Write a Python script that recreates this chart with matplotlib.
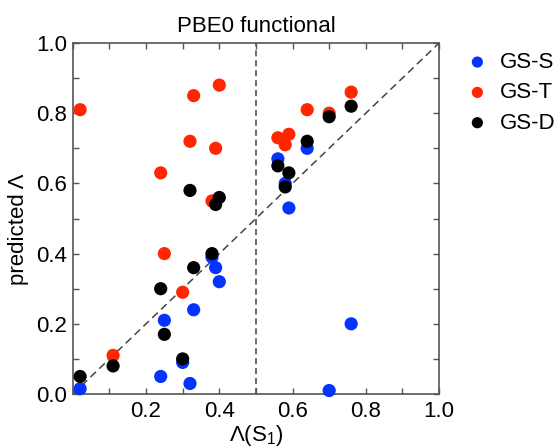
import matplotlib
matplotlib.use("Agg")
import matplotlib.pyplot as plt
from matplotlib.ticker import MultipleLocator, FixedLocator

plt.rcParams.update({
    "font.family": ["Liberation Sans", "DejaVu Sans"],
    "mathtext.fontset": "custom",
    "mathtext.rm": "Liberation Sans",
    "mathtext.it": "Liberation Sans",
    "font.size": 16,
})

# Lambda(S1) values and predicted Lambda for each ground-state reference
gs_s_x = [0.02, 0.24, 0.25, 0.30, 0.32, 0.33, 0.38, 0.39, 0.40, 0.56, 0.58, 0.59, 0.64, 0.70, 0.76]
gs_s_y = [0.015, 0.05, 0.21, 0.09, 0.03, 0.24, 0.39, 0.36, 0.32, 0.67, 0.60, 0.53, 0.70, 0.01, 0.20]

gs_t_x = [0.02, 0.11, 0.24, 0.25, 0.30, 0.32, 0.33, 0.38, 0.39, 0.40, 0.56, 0.58, 0.59, 0.64, 0.70, 0.76]
gs_t_y = [0.81, 0.11, 0.63, 0.40, 0.29, 0.72, 0.85, 0.55, 0.70, 0.88, 0.73, 0.71, 0.74, 0.81, 0.80, 0.86]

gs_d_x = [0.02, 0.11, 0.24, 0.25, 0.30, 0.32, 0.33, 0.38, 0.39, 0.40, 0.56, 0.58, 0.59, 0.64, 0.70, 0.76]
gs_d_y = [0.05, 0.08, 0.30, 0.17, 0.10, 0.58, 0.36, 0.40, 0.54, 0.56, 0.65, 0.59, 0.63, 0.72, 0.79, 0.82]

fig = plt.figure(figsize=(5.6, 4.48), dpi=100)
ax = fig.add_axes([0.130, 0.1205, 0.654, 0.7835])

ax.plot([0, 1], [0, 1], ls=(0, (5, 3)), color="#444444", lw=1.1, zorder=1)
ax.axvline(0.5, ls=(0, (4, 2.5)), color="#444444", lw=1.1, zorder=1)

kw = dict(s=90, edgecolors="none", clip_on=False, zorder=3)
ax.scatter(gs_s_x, gs_s_y, color="#0433ff", label="GS-S", **kw)
ax.scatter(gs_t_x, gs_t_y, color="#ff2600", label="GS-T", **kw)
ax.scatter(gs_d_x, gs_d_y, color="#000000", label="GS-D", **kw)

ax.set_xlim(0, 1)
ax.set_ylim(0, 1)
ax.xaxis.set_major_locator(FixedLocator([0.2, 0.4, 0.6, 0.8, 1.0]))
ax.yaxis.set_major_locator(MultipleLocator(0.2))
ax.xaxis.set_minor_locator(MultipleLocator(0.1))
ax.yaxis.set_minor_locator(MultipleLocator(0.1))
ax.tick_params(which="both", direction="in", top=True, right=True,
               color="#555555", width=1.0, labelsize=16, length=4)
ax.tick_params(axis="x", pad=5)
ax.tick_params(axis="y", pad=4)
for sp in ax.spines.values():
    sp.set_color("#555555")
    sp.set_linewidth(1.2)

ax.set_title("PBE0 functional", fontsize=16, pad=8)
ax.set_xlabel(r"Λ(S$_1$)", fontsize=16)
ax.xaxis.set_label_coords(0.5, -0.082)
ax.set_ylabel("predicted Λ", fontsize=16)
ax.yaxis.set_label_coords(-0.12, 0.47)

ax.legend(loc="upper left", bbox_to_anchor=(1.05, 1.0), frameon=False,
          markerscale=0.85, handletextpad=0.5, labelspacing=0.42,
          fontsize=16, handlelength=1.0, borderaxespad=0.0)

fig.savefig("out.png", dpi=100)
